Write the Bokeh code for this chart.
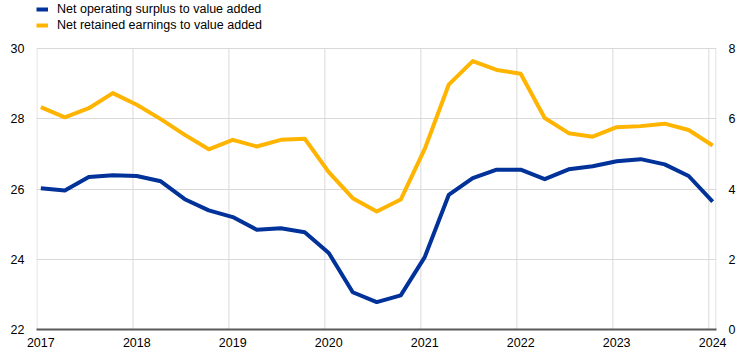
from bokeh.plotting import figure
from bokeh.models import (Range1d, LinearAxis, FixedTicker, Legend, LegendItem)
from bokeh.embed import file_html
from bokeh.resources import INLINE

# Quarterly data, 2017Q1 - 2024Q1
years = [2017, 2017, 2017, 2017, 2018, 2018, 2018, 2018, 2019, 2019, 2019, 2019,
         2020, 2020, 2020, 2020, 2021, 2021, 2021, 2021, 2022, 2022, 2022, 2022,
         2023, 2023, 2023, 2023, 2024]
quarters = [1, 2, 3, 4, 1, 2, 3, 4, 1, 2, 3, 4, 1, 2, 3, 4, 1, 2, 3, 4,
            1, 2, 3, 4, 1, 2, 3, 4, 1]

net_operating_surplus = [26.02, 25.96, 26.34, 26.39, 26.37, 26.22, 25.71, 25.39,
                         25.20, 24.84, 24.88, 24.77, 24.18, 23.06, 22.78, 22.97,
                         24.06, 25.83, 26.31, 26.55, 26.55, 26.28, 26.56, 26.65,
                         26.79, 26.85, 26.70, 26.37, 25.64]

net_retained_earnings = [6.33, 6.04, 6.30, 6.73, 6.40, 5.99, 5.54, 5.13,
                         5.40, 5.21, 5.40, 5.43, 4.48, 3.74, 3.36, 3.70,
                         5.14, 6.97, 7.64, 7.39, 7.28, 6.02, 5.59, 5.49,
                         5.76, 5.79, 5.86, 5.68, 5.24]

x_tick_years = [2017, 2018, 2019, 2020, 2021, 2022, 2023, 2024]
left_ticks = [22, 24, 26, 28, 30]
right_ticks = [0, 2, 4, 6, 8]

series_labels = ["Net operating surplus to value added",
                 "Net retained earnings to value added"]

BLUE = "#003299"
ORANGE = "#FFB400"
GRID = "#d9d9d9"
FONT = "Liberation Sans"
FS = "12.5px"

xs = [y + 0.04 + 0.25 * (q - 1) for y, q in zip(years, quarters)]

# Frame spans the full height above the x axis so the legend can sit in it;
# the y range is extended so 30 still lands where the chart's top border is.
y_lo, y_hi = 22, 30
top_pad = 48 / 35.125
x_lo, x_hi = 2016.995, 2024.08

p = figure(width=739, height=356, output_backend="svg", toolbar_location=None,
           x_range=Range1d(x_lo, x_hi), y_range=Range1d(y_lo, y_hi + top_pad),
           min_border_left=36, min_border_right=23, min_border_top=0,
           min_border_bottom=27)
p.extra_y_ranges = {"right": Range1d(y_lo - 22, y_hi - 22 + top_pad)}

p.outline_line_color = None
p.background_fill_color = "white"
p.border_fill_color = "white"

# vertical grid lines and right border limited to the value area
vx = x_tick_years + [x_hi - 0.006]
p.segment(x0=vx, y0=[y_lo] * len(vx), x1=vx, y1=[y_hi] * len(vx),
          line_color=GRID, line_width=1)

r1 = p.line(xs, net_operating_surplus, line_color=BLUE, line_width=4,
            line_join="round")
r2 = p.line(xs, net_retained_earnings, line_color=ORANGE, line_width=4,
            line_join="round", y_range_name="right")


def style_axis(ax, standoff):
    ax.major_tick_line_color = None
    ax.minor_tick_line_color = None
    ax.major_tick_out = 0
    ax.major_tick_in = 0
    ax.minor_tick_out = 0
    ax.minor_tick_in = 0
    ax.major_label_standoff = standoff
    ax.major_label_text_font = FONT
    ax.major_label_text_font_size = FS
    ax.major_label_text_color = "#000000"


# x axis
xa = p.xaxis[0]
xa.ticker = FixedTicker(ticks=[y + 0.04 for y in x_tick_years])
xa.major_label_overrides = {y + 0.04: str(y) for y in x_tick_years}
xa.axis_line_color = "#595959"
xa.axis_line_width = 2
style_axis(xa, 8)

# left axis
ya = p.yaxis[0]
ya.ticker = FixedTicker(ticks=left_ticks)
ya.axis_line_color = None
style_axis(ya, 12)

# right axis
ra = LinearAxis(y_range_name="right", ticker=FixedTicker(ticks=right_ticks))
ra.axis_line_color = None
style_axis(ra, 12)
p.add_layout(ra, "right")

# grids
p.xgrid.grid_line_color = None
p.ygrid.ticker = FixedTicker(ticks=left_ticks)
p.ygrid.grid_line_color = GRID

legend = Legend(items=[LegendItem(label=series_labels[0], renderers=[r1]),
                       LegendItem(label=series_labels[1], renderers=[r2])],
                location=(0, 296), orientation="vertical",
                padding=0, margin=0, spacing=0,
                glyph_width=12, glyph_height=16, label_height=16,
                label_standoff=9, border_line_color=None,
                background_fill_alpha=0,
                label_text_font=FONT, label_text_font_size=FS,
                label_text_color="#000000")
p.add_layout(legend, "center")

open("out.html", "w").write(file_html(p, INLINE))
